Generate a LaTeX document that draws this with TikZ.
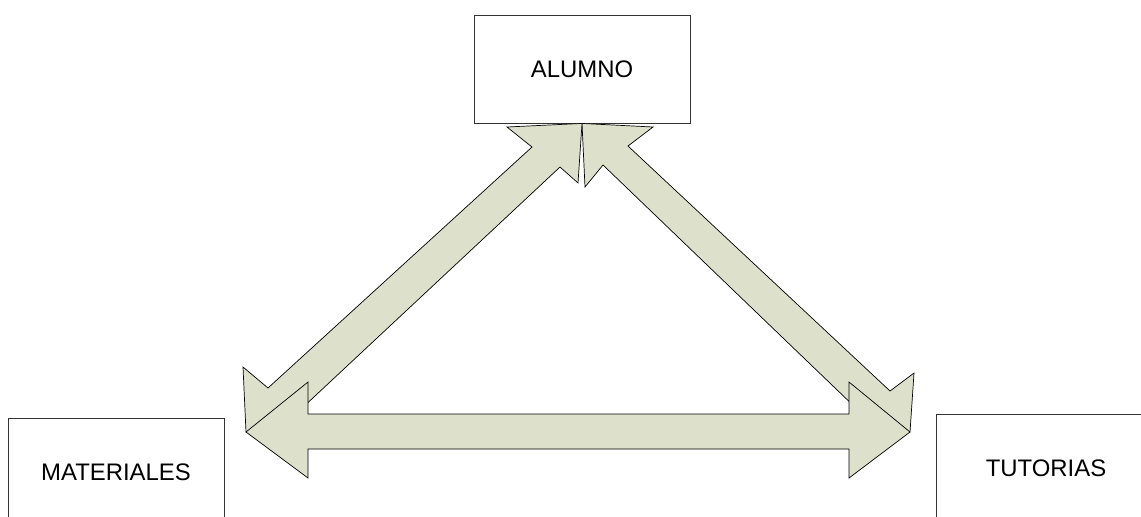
\documentclass[tikz,border=0pt]{standalone}
\usepackage{fontspec}
\setmainfont{Liberation Sans}
\usetikzlibrary{positioning}
\definecolor{arrowfill}{RGB}{221,224,202}
\tikzset{
  box/.style={draw=black!80, line width=0.6pt, minimum width=5.4cm, minimum height=2.7cm, inner sep=0pt, font=\fontsize{17}{20}\selectfont},
  fatarrow/.style={draw=black, fill=arrowfill, line width=0.5pt, line join=miter}
}
\begin{document}
\begin{tikzpicture}[x=0.025cm, y=-0.025cm]
  \useasboundingbox (0,0) rectangle (1141,516);
  \clip (0,0) rectangle (1141,516);
  % boxes
  \node[box] (alumno) at (582,69) {ALUMNO};
  \node[box] (materiales) at (116,472) {MATERIALES};
  \node[box, minimum width=5.5cm] (tutorias) at (1046,468) {TUTORIAS};
  % arrow tips
  \coordinate (tipL) at (246,432);
  \coordinate (tipR) at (910,432);
  % alumno - tutorias
  \draw[fatarrow] (alumno.south) -- (653,127) -- (628,146) -- (890,391) -- (914,373) -- (tipR)
    -- (837,429) -- (859,411) -- (603,165) -- (585,187) -- cycle;
  % alumno - materiales
  \draw[fatarrow] (alumno.south) -- (507,127) -- (532,147) -- (268,388) -- (243,367) -- (tipL)
    -- (321,429) -- (300,410) -- (560,167) -- (578,183) -- cycle;
  % materiales - tutorias
  \draw[fatarrow] (tipL) -- (308,382) -- (308,414) -- (849,414) -- (849,382) -- (tipR)
    -- (849,478) -- (849,449) -- (308,449) -- (308,478) -- cycle;
\end{tikzpicture}
\end{document}
